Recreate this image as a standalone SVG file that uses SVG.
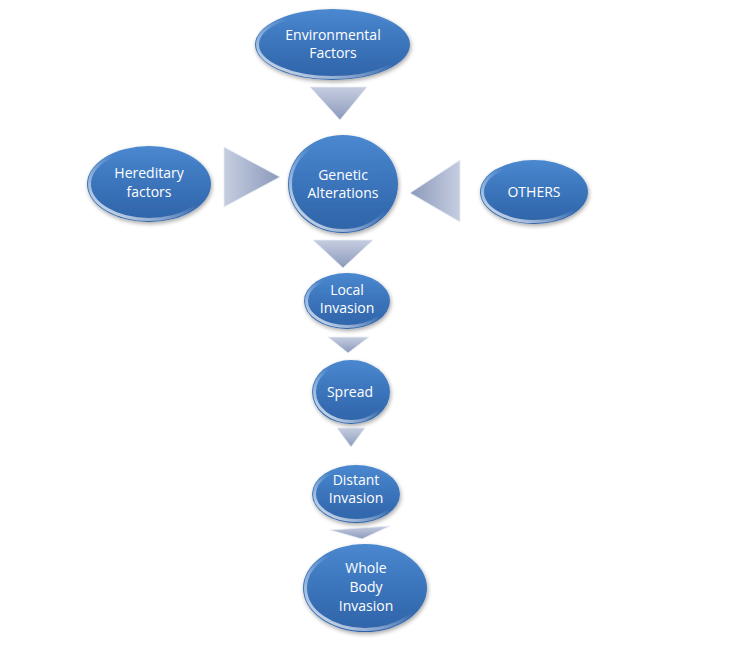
<svg xmlns="http://www.w3.org/2000/svg" width="736" height="648" viewBox="0 0 736 648">
<defs>
<linearGradient id="gFill" x1="0" y1="0" x2="0" y2="1">
<stop offset="0" stop-color="#4a88cf"/>
<stop offset="0.5" stop-color="#3b74bb"/>
<stop offset="1" stop-color="#2f63a8"/>
</linearGradient>
<linearGradient id="gEdge" x1="0" y1="1" x2="1" y2="0">
<stop offset="0" stop-color="#ffffff" stop-opacity="0.9"/>
<stop offset="0.35" stop-color="#ffffff" stop-opacity="0.35"/>
<stop offset="0.55" stop-color="#ffffff" stop-opacity="0"/>
<stop offset="0.85" stop-color="#ffffff" stop-opacity="0"/>
<stop offset="1" stop-color="#ffffff" stop-opacity="0.5"/>
</linearGradient>
<linearGradient id="gTri" x1="0" y1="0" x2="0" y2="1">
<stop offset="0" stop-color="#c6cde0"/>
<stop offset="1" stop-color="#8b9abb"/>
</linearGradient>
<linearGradient id="gTriH" x1="0" y1="0" x2="1" y2="0">
<stop offset="0" stop-color="#c6cde0"/>
<stop offset="1" stop-color="#8b9abb"/>
</linearGradient>
<linearGradient id="gTriL" x1="1" y1="0" x2="0" y2="0">
<stop offset="0" stop-color="#c6cde0"/>
<stop offset="1" stop-color="#8b9abb"/>
</linearGradient>
<filter id="sh" x="-20%" y="-20%" width="140%" height="150%">
<feGaussianBlur in="SourceAlpha" stdDeviation="2"/>
<feOffset dx="1" dy="2"/>
<feComponentTransfer><feFuncA type="linear" slope="0.35"/></feComponentTransfer>
<feMerge><feMergeNode/><feMergeNode in="SourceGraphic"/></feMerge>
</filter>
</defs>
<style>
.e{fill:url(#gFill);filter:url(#sh)}
.h{fill:none;stroke:url(#gEdge);stroke-width:3}
.t{font-family:"Open Sans","Noto Sans","Liberation Sans",sans-serif;fill:#ffffff;text-anchor:middle;font-size:14px}
.tri{stroke:#e8ecf4;stroke-width:0.8}
</style>
<rect width="736" height="648" fill="#ffffff"/>
<g id="connectors">
<polygon class="tri" points="310,87 367,87 340,120" fill="url(#gTri)"/>
<polygon class="tri" points="224,147 224,207 280,177" fill="url(#gTriH)"/>
<polygon class="tri" points="460,160 460,222 410,193" fill="url(#gTriL)"/>
<polygon class="tri" points="313,240 373,240 343,268" fill="url(#gTri)"/>
<polygon class="tri" points="328,337 369,337 348,353" fill="url(#gTri)"/>
<polygon class="tri" points="337,428 365,428 351,447" fill="url(#gTri)"/>
<polygon class="tri" points="330,530 390,526 362,539" fill="url(#gTri)"/>
</g>
<g id="environmental">
<ellipse class="e" cx="332.5" cy="44.5" rx="77.5" ry="35.5"/>
<ellipse class="h" cx="332.5" cy="44.5" rx="75" ry="33"/>
<text class="t" x="333" y="40">Environmental</text>
<text class="t" x="333" y="58">Factors</text>
</g>
<g id="hereditary">
<ellipse class="e" cx="149" cy="184" rx="62" ry="38"/>
<ellipse class="h" cx="149" cy="184" rx="59.5" ry="35.5"/>
<text class="t" x="149" y="178" font-size="15">Hereditary</text>
<text class="t" x="149" y="197" font-size="15">factors</text>
</g>
<g id="genetic">
<ellipse class="e" cx="343" cy="184" rx="55" ry="49"/>
<ellipse class="h" cx="343" cy="184" rx="52.5" ry="46.5"/>
<text class="t" x="343" y="180">Genetic</text>
<text class="t" x="343" y="198">Alterations</text>
</g>
<g id="others">
<ellipse class="e" cx="534" cy="192" rx="54" ry="32"/>
<ellipse class="h" cx="534" cy="192" rx="51.5" ry="29.5"/>
<text class="t" x="534" y="197">OTHERS</text>
</g>
<g id="local">
<ellipse class="e" cx="347" cy="301" rx="43" ry="28"/>
<ellipse class="h" cx="347" cy="301" rx="40.5" ry="25.5"/>
<text class="t" x="347" y="295" font-size="13">Local</text>
<text class="t" x="347" y="313" font-size="13">Invasion</text>
</g>
<g id="spread">
<ellipse class="e" cx="351" cy="392" rx="39" ry="32"/>
<ellipse class="h" cx="351" cy="392" rx="36.5" ry="29.5"/>
<text class="t" x="350" y="397" font-size="13">Spread</text>
</g>
<g id="distant">
<ellipse class="e" cx="356" cy="494" rx="44" ry="29"/>
<ellipse class="h" cx="356" cy="494" rx="41.5" ry="26.5"/>
<text class="t" x="356" y="485" font-size="13">Distant</text>
<text class="t" x="356" y="503" font-size="13">Invasion</text>
</g>
<g id="wholebody">
<ellipse class="e" cx="365" cy="588" rx="62" ry="44"/>
<ellipse class="h" cx="365" cy="588" rx="59.5" ry="41.5"/>
<text class="t" x="366" y="573" font-size="15">Whole</text>
<text class="t" x="366" y="592" font-size="15">Body</text>
<text class="t" x="366" y="611" font-size="15">Invasion</text>
</g>
</svg>
